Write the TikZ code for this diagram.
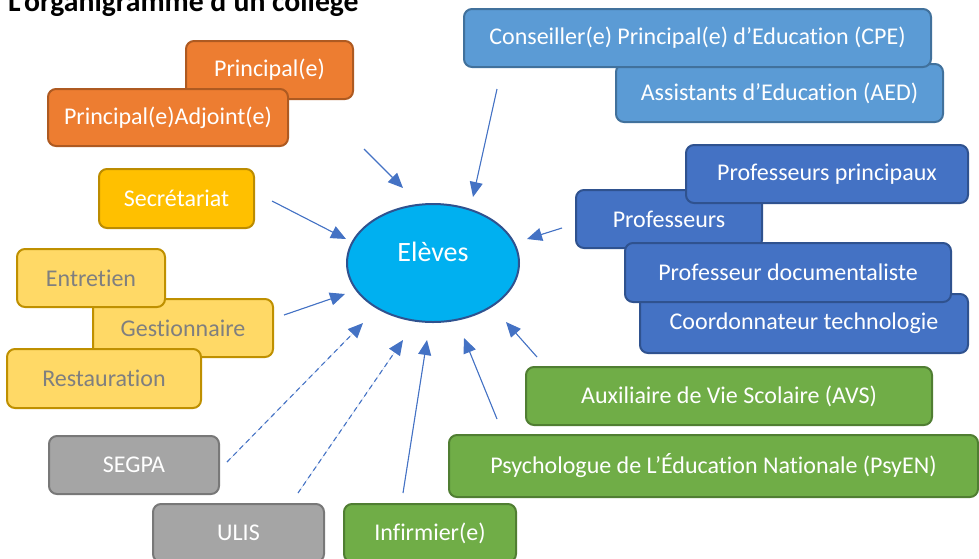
\documentclass[tikz,border=0pt]{standalone}
\usepackage{fontspec}
\setmainfont{Carlito}[Ligatures={NoCommon}]
\usetikzlibrary{arrows.meta,shapes.geometric}
\definecolor{orfill}{HTML}{ED7D31}\definecolor{ordraw}{HTML}{AE5A21}
\definecolor{lbfill}{HTML}{5B9BD5}\definecolor{lbdraw}{HTML}{41719C}
\definecolor{dbfill}{HTML}{4472C4}\definecolor{dbdraw}{HTML}{2F528F}
\definecolor{gofill}{HTML}{FFC000}\definecolor{godraw}{HTML}{BC8C00}
\definecolor{lyfill}{HTML}{FFD966}\definecolor{lydraw}{HTML}{BF9000}
\definecolor{lytext}{HTML}{7F7F7F}
\definecolor{grfill}{HTML}{A5A5A5}\definecolor{grdraw}{HTML}{787878}
\definecolor{gnfill}{HTML}{70AD47}\definecolor{gndraw}{HTML}{507E32}
\definecolor{elfill}{HTML}{00B0F0}
\definecolor{arrblue}{HTML}{4472C4}
\begin{document}
\begin{tikzpicture}[x=1pt,y=-1pt,
  basebox/.style={rectangle, rounded corners=8pt, line width=2pt, inner sep=0pt,
    font=\fontsize{24}{28}\selectfont, text=white},
  obox/.style={basebox, fill=orfill, draw=ordraw},
  lbbox/.style={basebox, fill=lbfill, draw=lbdraw},
  dbbox/.style={basebox, fill=dbfill, draw=dbdraw},
  gobox/.style={basebox, fill=gofill, draw=godraw},
  lybox/.style={basebox, fill=lyfill, draw=lydraw, text=lytext},
  grbox/.style={basebox, fill=grfill, draw=grdraw},
  gnbox/.style={basebox, fill=gnfill, draw=gndraw},
  arr/.style={-{Triangle[length=15pt,width=13pt]}, line width=1.1pt, draw=arrblue, fill=arrblue},
  darr/.style={arr, dash pattern=on 5pt off 4pt}
]
\useasboundingbox (0,0) rectangle (979,558);
\clip (0,0) rectangle (979,558);

% title
\node[anchor=base west, inner sep=0pt, font=\bfseries\fontsize{29.7}{33}\selectfont] (title) at (8,11) {L’organigramme d’un collège};

% orange
\node[obox, minimum width=167pt, minimum height=58pt] (pa) at (269.5,70) {Principal(e)};
\node[obox, minimum width=240pt, minimum height=57pt] (paa) at (168,117.5) {Principal(e)Adjoint(e)};

% light blue
\node[lbbox, minimum width=327pt, minimum height=58pt] (aed) at (779.5,93) {Assistants d’Education (AED)};
\node[lbbox, minimum width=467pt, minimum height=58pt] (cpe) at (697.5,38) {Conseiller(e) Principal(e) d’Education (CPE)};

% secretariat
\node[gobox, minimum width=155pt, minimum height=59pt] (sec) at (176.5,198.5) {Secrétariat};

% light yellow
\node[lybox, minimum width=180pt, minimum height=58pt] (ges) at (183,328) {Gestionnaire};
\node[lybox, minimum width=148pt, minimum height=58pt] (ent) at (91,278) {Entretien};
\node[lybox, minimum width=194pt, minimum height=59pt] (res) at (104,378.5) {Restauration};

% dark blue
\node[dbbox, minimum width=186pt, minimum height=58pt] (prof) at (669,219) {Professeurs};
\node[dbbox, minimum width=282pt, minimum height=58pt] (pp) at (827,174) {Professeurs principaux};
\node[dbbox, minimum width=328pt, minimum height=59pt] (coord) at (804,323.5) {Coordonnateur technologie};
\node[dbbox, minimum width=326pt, minimum height=59pt] (doc) at (788,272.5) {Professeur documentaliste};

% green
\node[gnbox, minimum width=406pt, minimum height=58pt] (avs) at (729,396) {Auxiliaire de Vie Scolaire (AVS)};
\node[gnbox, minimum width=529pt, minimum height=62pt] (psy) at (713.5,466) {Psychologue de L’Éducation Nationale (PsyEN)};
\node[gnbox, minimum width=172pt, minimum height=58pt] (inf) at (430,533) {Infirmier(e)};

% gray
\node[grbox, minimum width=170pt, minimum height=58pt] (segpa) at (134,465) {SEGPA};
\node[grbox, minimum width=171pt, minimum height=58pt] (ulis) at (238.5,533) {ULIS};

% ellipse
\node[ellipse, minimum width=172pt, minimum height=118pt, inner sep=0pt, fill=elfill, draw=dbdraw,
  line width=2pt, text=white, font=\fontsize{28}{32}\selectfont, text height=19pt, text depth=23pt] (el) at (433,263) {Elèves};

% connector ends
\coordinate (s1) at (364,149); \coordinate (t1) at (403,188);
\coordinate (s2) at (497,89);  \coordinate (t2) at (473,197);
\coordinate (s3) at (272,201); \coordinate (t3) at (346,239);
\coordinate (s4) at (284,315); \coordinate (t4) at (345,294);
\coordinate (s5) at (227,462); \coordinate (t5) at (363,323);
\coordinate (s6) at (298,493); \coordinate (t6) at (403,340);
\coordinate (s7) at (403,493); \coordinate (t7) at (427,340);
\coordinate (s8) at (497,419); \coordinate (t8) at (464,338);
\coordinate (s9) at (537,357); \coordinate (t9) at (506,322);
\coordinate (s10) at (562,228); \coordinate (t10) at (527,239);

\draw[arr] (s1) -- (t1);
\draw[arr] (s2) -- (t2);
\draw[arr] (s3) -- (t3);
\draw[arr] (s4) -- (t4);
\draw[darr] (s5) -- (t5);
\draw[darr] (s6) -- (t6);
\draw[arr] (s7) -- (t7);
\draw[arr] (s8) -- (t8);
\draw[arr] (s9) -- (t9);
\draw[arr] (s10) -- (t10);
\end{tikzpicture}
\end{document}
